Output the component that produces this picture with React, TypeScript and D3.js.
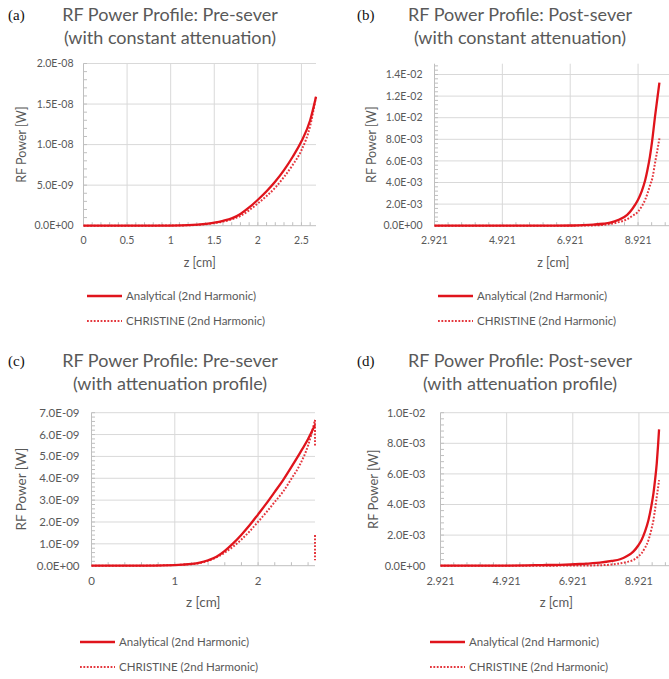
import React, { useEffect, useRef } from 'react'
import * as d3 from 'd3'

// panel (a) pre-sever, constant attenuation  (power in 1e-9 W)
const zA = [0, 0.5, 1.0, 1.2, 1.4, 1.5, 1.6, 1.7, 1.8, 1.9, 2.0, 2.1, 2.2, 2.3, 2.4, 2.5, 2.6, 2.667]
const analyticalA = [0, 0, 0.02, 0.06, 0.22, 0.38, 0.6, 0.9, 1.45, 2.25, 3.2, 4.25, 5.45, 6.85, 8.5, 10.4, 13.0, 15.9]
const christineA = [0, 0, 0.02, 0.05, 0.18, 0.32, 0.5, 0.78, 1.2, 1.9, 2.75, 3.65, 4.7, 6.0, 7.5, 9.3, 12.3, 15.9]

// panel (b) post-sever, constant attenuation (power in 1e-3 W)
const zB = [2.921, 4.921, 6.5, 7.0, 7.3, 7.6, 7.9, 8.1, 8.35, 8.6, 8.75, 8.92, 9.03, 9.13, 9.2, 9.27, 9.35, 9.42, 9.49, 9.55]
const analyticalB = [0, 0, 0.005, 0.02, 0.05, 0.1, 0.18, 0.28, 0.55, 1.0, 1.55, 2.4, 3.2, 4.2, 5.2, 6.4, 8.2, 10.1, 11.8, 13.24]
const christineB = [0, 0, 0, 0.005, 0.015, 0.03, 0.08, 0.16, 0.33, 0.6, 0.9, 1.3, 1.8, 2.4, 3.0, 3.7, 4.5, 5.8, 7.0, 8.09]

// panel (c) pre-sever, attenuation profile (power in 1e-9 W)
const zC = [0, 0.5, 1.0, 1.1, 1.2, 1.3, 1.4, 1.5, 1.6, 1.7, 1.8, 1.9, 2.0, 2.1, 2.2, 2.3, 2.4, 2.5, 2.6, 2.683]
const analyticalC = [0, 0, 0.03, 0.05, 0.08, 0.14, 0.25, 0.41, 0.68, 1.02, 1.42, 1.86, 2.35, 2.85, 3.38, 3.92, 4.52, 5.14, 5.8, 6.44]
const christineC = [0, 0, 0.03, 0.05, 0.07, 0.12, 0.22, 0.38, 0.6, 0.87, 1.2, 1.58, 2.01, 2.45, 2.92, 3.39, 3.98, 4.61, 5.5, 6.67]
const christineTailZC = [2.683, 2.683, 2.683, 2.683, 2.683]
const christineTailC = [6.67, 5.5, NaN, 1.4, 0.25]

// panel (d) post-sever, attenuation profile (power in 1e-3 W)
const zD = [2.921, 4.921, 6.0, 6.53, 7.13, 7.74, 8.1, 8.35, 8.55, 8.75, 8.9, 9.0, 9.1, 9.21, 9.3, 9.36, 9.41, 9.46, 9.5, 9.53]
const analyticalD = [0.005, 0.01, 0.04, 0.06, 0.11, 0.2, 0.31, 0.42, 0.62, 0.92, 1.32, 1.68, 2.21, 2.99, 3.94, 4.73, 5.62, 6.69, 7.88, 8.91]
const christineD = [0, 0, 0, 0.005, 0.01, 0.03, 0.08, 0.15, 0.24, 0.37, 0.6, 0.81, 1.15, 1.68, 2.4, 2.99, 3.7, 4.5, 5.1, 5.6]

const TITLES = [
  ['RF Power Profile: Pre-sever', '(with constant attenuation)'],
  ['RF Power Profile: Post-sever', '(with constant attenuation)'],
  ['RF Power Profile: Pre-sever', '(with attenuation profile)'],
  ['RF Power Profile: Post-sever', '(with attenuation profile)']
]
const PANEL_TAGS = ['(a)', '(b)', '(c)', '(d)']
const LEGEND_LABELS = ['Analytical (2nd Harmonic)', 'CHRISTINE (2nd Harmonic)']
const Y_LABEL = 'RF Power [W]'
const X_LABEL = 'z [cm]'

const RED = '#e0141c'
const GRAY_TEXT = '#595959'
const GRID = '#d9d9d9'
const AXIS = '#bfbfbf'
const FONT = 'Lato, "Open Sans", sans-serif'

const sci = (v: number) => {
  const [m, e] = v.toExponential(1).split('e')
  const n = parseInt(e)
  return `${m}E${n < 0 ? '-' : '+'}${String(Math.abs(n)).padStart(2, '0')}`
}

interface PanelCfg {
  tag: string
  title: string[]
  box: { left: number; right: number; top: number; bottom: number }
  xDomain: [number, number]
  xMajor: number[]
  xMinorStep: number
  xFmt: (v: number) => string
  yMax: number
  yMajor: number
  yMinor: number
  unit: number
  z: number[]
  analytical: number[]
  christine: number[]
  tail?: { z: number[]; p: number[] }
  tickFont: number
  yLabelGap: number
  yLabelX: number
  titleX: number
  titleY: number
  tagX: number
  legendX: number
  legendY: number
}

const range = (a: number, b: number, s: number) => {
  const out: number[] = []
  for (let i = 0; a + i * s <= b + s * 1e-6; i++) out.push(a + i * s)
  return out
}

const plainFmt = (v: number) => String(+v.toFixed(3))
const fixedFmt = (v: number) => v.toFixed(3)

const PANELS: PanelCfg[] = [
  {
    tag: PANEL_TAGS[0], title: TITLES[0],
    box: { left: 83.5, right: 316, top: 63.5, bottom: 225.7 },
    xDomain: [0, 2.667], xMajor: range(0, 2.5, 0.5), xMinorStep: 0.1, xFmt: plainFmt,
    yMax: 2e-8, yMajor: 5e-9, yMinor: 1e-9, unit: 1e-9,
    z: zA, analytical: analyticalA, christine: christineA,
    tickFont: 10.5, yLabelGap: 10, yLabelX: 21.5,
    titleX: 170, titleY: 21, tagX: 8, legendX: 87, legendY: 296
  },
  {
    tag: PANEL_TAGS[1], title: TITLES[1],
    box: { left: 434.5, right: 672, top: 63.7, bottom: 225.7 },
    xDomain: [2.921, 9.921], xMajor: range(2.921, 8.921, 2), xMinorStep: 0.4, xFmt: fixedFmt,
    yMax: 0.015, yMajor: 0.002, yMinor: 0.0004, unit: 1e-3,
    z: zB, analytical: analyticalB, christine: christineB,
    tickFont: 10.5, yLabelGap: 12, yLabelX: 372,
    titleX: 520, titleY: 21, tagX: 357, legendX: 438, legendY: 296
  },
  {
    tag: PANEL_TAGS[2], title: TITLES[2],
    box: { left: 91.5, right: 315, top: 412.7, bottom: 565.7 },
    xDomain: [0, 2.683], xMajor: range(0, 2, 1), xMinorStep: 0.2, xFmt: plainFmt,
    yMax: 7e-9, yMajor: 1e-9, yMinor: 2e-10, unit: 1e-9,
    z: zC, analytical: analyticalC, christine: christineC,
    tail: { z: christineTailZC, p: christineTailC },
    tickFont: 11.5, yLabelGap: 12, yLabelX: 21.5,
    titleX: 170, titleY: 367, tagX: 8, legendX: 80, legendY: 642
  },
  {
    tag: PANEL_TAGS[3], title: TITLES[3],
    box: { left: 440.5, right: 672, top: 412.7, bottom: 565.7 },
    xDomain: [2.921, 9.921], xMajor: range(2.921, 8.921, 2), xMinorStep: 0.4, xFmt: fixedFmt,
    yMax: 0.01, yMajor: 0.002, yMinor: 0.0004, unit: 1e-3,
    z: zD, analytical: analyticalD, christine: christineD,
    tickFont: 11, yLabelGap: 15, yLabelX: 373,
    titleX: 520, titleY: 367, tagX: 357, legendX: 430, legendY: 642
  }
]

function drawPanel(svg: d3.Selection<SVGSVGElement, unknown, null, undefined>, p: PanelCfg) {
  const { left, right, top, bottom } = p.box
  const x = d3.scaleLinear().domain(p.xDomain).range([left, right])
  const y = d3.scaleLinear().domain([0, p.yMax]).range([bottom, top])
  const g = svg.append('g')

  // title + panel tag
  g.append('text').attr('x', p.tagX).attr('y', p.titleY - 1)
    .style('font-family', '"Liberation Serif", "DejaVu Serif", serif').style('font-size', '15px').style('fill', '#111')
    .text(p.tag)
  p.title.forEach((t, i) => {
    g.append('text').attr('x', p.titleX).attr('y', p.titleY + i * 22.5)
      .attr('text-anchor', 'middle')
      .style('font-family', FONT).style('font-size', '18px').style('fill', GRAY_TEXT)
      .text(t)
  })

  // grid
  const yMajors = range(0, p.yMax, p.yMajor)
  g.selectAll(null).data(yMajors.filter(v => v > 0)).enter().append('line')
    .attr('x1', left).attr('x2', right).attr('y1', d => y(d)).attr('y2', d => y(d))
    .attr('stroke', GRID).attr('stroke-width', 1)
  g.selectAll(null).data(p.xMajor.slice(1)).enter().append('line')
    .attr('x1', d => x(d)).attr('x2', d => x(d)).attr('y1', top).attr('y2', bottom)
    .attr('stroke', GRID).attr('stroke-width', 1)

  // minor ticks (inside)
  const xMinors = range(p.xDomain[0], p.xDomain[1], p.xMinorStep)
  g.selectAll(null).data(xMinors).enter().append('line')
    .attr('x1', d => x(d)).attr('x2', d => x(d)).attr('y1', bottom).attr('y2', bottom - 3.5)
    .attr('stroke', AXIS)
  g.selectAll(null).data(range(0, p.yMax, p.yMinor)).enter().append('line')
    .attr('x1', left).attr('x2', left + 3.5).attr('y1', d => y(d)).attr('y2', d => y(d))
    .attr('stroke', AXIS)

  // axis lines
  g.append('line').attr('x1', left).attr('x2', left).attr('y1', top).attr('y2', bottom).attr('stroke', AXIS)
  g.append('line').attr('x1', left).attr('x2', right).attr('y1', bottom).attr('y2', bottom).attr('stroke', AXIS)

  // tick labels
  g.selectAll(null).data(yMajors).enter().append('text')
    .attr('x', left - p.yLabelGap).attr('y', d => y(d)).attr('dy', '0.35em')
    .attr('text-anchor', 'end')
    .style('font-family', FONT).style('font-size', `${p.tickFont}px`).style('fill', GRAY_TEXT)
    .text(d => sci(d))
  g.selectAll(null).data(p.xMajor).enter().append('text')
    .attr('x', d => x(d)).attr('y', bottom + 15).attr('dy', '0.35em')
    .attr('text-anchor', 'middle')
    .style('font-family', FONT).style('font-size', `${p.tickFont}px`).style('fill', GRAY_TEXT)
    .text(d => p.xFmt(d))

  // axis titles
  g.append('text')
    .attr('transform', `translate(${p.yLabelX},${(top + bottom) / 2}) rotate(-90)`)
    .attr('text-anchor', 'middle').attr('dy', '0.35em')
    .style('font-family', FONT).style('font-size', `${p.tickFont + 2}px`).style('fill', GRAY_TEXT)
    .text(Y_LABEL)
  g.append('text')
    .attr('x', (left + right) / 2).attr('y', bottom + 37).attr('dy', '0.35em')
    .attr('text-anchor', 'middle')
    .style('font-family', FONT).style('font-size', `${p.tickFont + 2}px`).style('fill', GRAY_TEXT)
    .text(X_LABEL)

  // series
  const line = d3.line<[number, number]>()
    .defined(d => !isNaN(d[1]))
    .x(d => x(d[0])).y(d => y(d[1] * p.unit))
    .curve(d3.curveMonotoneX)
  g.append('path')
    .attr('d', line(p.z.map((z, i) => [z, p.christine[i]]) as [number, number][]))
    .attr('fill', 'none').attr('stroke', RED).attr('stroke-width', 2)
    .attr('stroke-dasharray', '1.8,1.6').attr('opacity', 0.85)
  if (p.tail) {
    const tailLine = d3.line<[number, number]>()
      .defined(d => !isNaN(d[1]))
      .x(d => x(d[0])).y(d => y(d[1] * p.unit))
    g.append('path')
      .attr('d', tailLine(p.tail.z.map((z, i) => [z, p.tail!.p[i]]) as [number, number][]))
      .attr('fill', 'none').attr('stroke', RED).attr('stroke-width', 2)
      .attr('stroke-dasharray', '1.8,1.6').attr('opacity', 0.85)
  }
  g.append('path')
    .attr('d', line(p.z.map((z, i) => [z, p.analytical[i]]) as [number, number][]))
    .attr('fill', 'none').attr('stroke', RED).attr('stroke-width', 2.3)

  // legend
  LEGEND_LABELS.forEach((label, i) => {
    const ly = p.legendY + i * 25
    g.append('line').attr('x1', p.legendX).attr('x2', p.legendX + 35).attr('y1', ly).attr('y2', ly)
      .attr('stroke', RED).attr('stroke-width', i === 0 ? 2.5 : 2)
      .attr('stroke-dasharray', i === 0 ? null : '1.8,1.6').attr('opacity', i === 0 ? 1 : 0.85)
    g.append('text').attr('x', p.legendX + 39).attr('y', ly).attr('dy', '0.35em')
      .style('font-family', FONT).style('font-size', '11.5px').style('fill', GRAY_TEXT)
      .text(label)
  })
}

export default function App() {
  const svgRef = useRef<SVGSVGElement>(null)

  useEffect(() => {
    document.body.style.margin = '0'
    if (!svgRef.current) return
    const svg = d3.select(svgRef.current)
    svg.selectAll('*').remove()
    PANELS.forEach(p => drawPanel(svg, p))
  }, [])

  return (
    <svg ref={svgRef} width={669} height={679} style={{ display: 'block', background: '#fff' }} />
  )
}
